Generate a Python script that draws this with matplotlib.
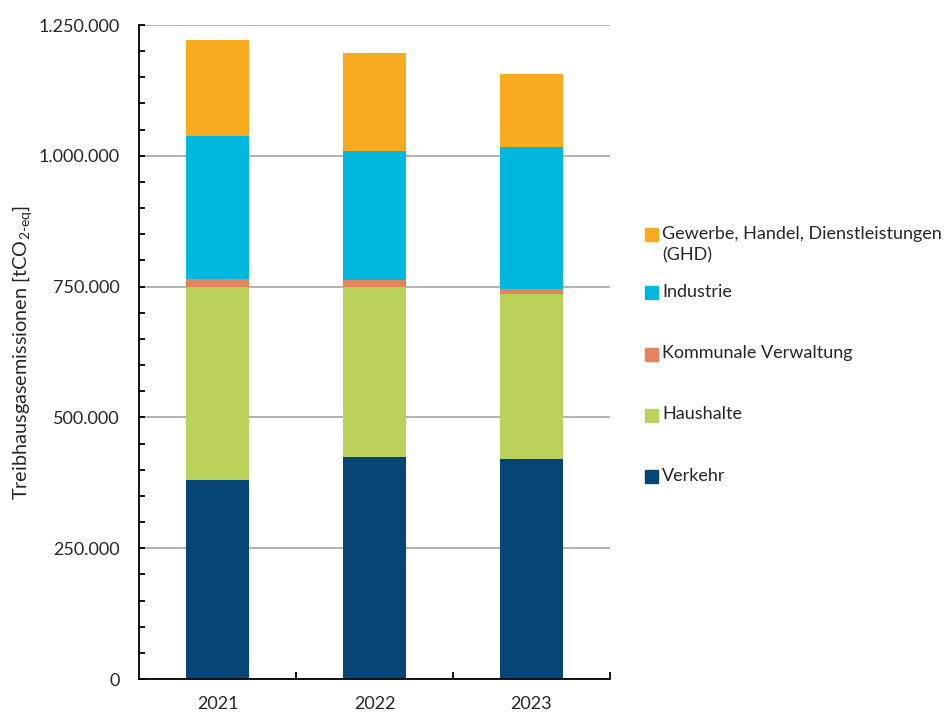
import matplotlib
matplotlib.use("Agg")
import matplotlib.pyplot as plt
import numpy as np
from matplotlib.patches import Rectangle
from matplotlib.ticker import MultipleLocator, FuncFormatter, FixedLocator

plt.rcParams['font.family'] = ['Lato', 'DejaVu Sans']
plt.rcParams['mathtext.fontset'] = 'custom'
plt.rcParams['mathtext.rm'] = 'Lato'
plt.rcParams['mathtext.it'] = 'Lato'

# Daten (tCO2-eq)
jahre = ['2021', '2022', '2023']
sektoren = ['Verkehr', 'Haushalte', 'Kommunale Verwaltung', 'Industrie',
            'Gewerbe, Handel, Dienstleistungen\n(GHD)']
verkehr = [380300, 424800, 421000]
haushalte = [369400, 324900, 314700]
kommunal = [14700, 12200, 9600]
industrie = [273800, 247700, 270800]
ghd = [182900, 186700, 140100]
farben = ['#054575', '#BBD25A', '#E6825F', '#00B8DD', '#F8AB1F']

werte = [verkehr, haushalte, kommunal, industrie, ghd]
textfarbe = '#262626'

fig = plt.figure(figsize=(9.49, 7.15), dpi=100)
ax = fig.add_axes([139/949, 1-679/715, 471/949, 654/715])

x = np.arange(len(jahre))
unten = np.zeros(len(jahre))
for reihe, farbe, name in zip(werte, farben, sektoren):
    ax.bar(x, reihe, width=0.4, bottom=unten, color=farbe, label=name, zorder=3)
    unten += np.array(reihe)

ax.set_xlim(-0.5, 2.5)
ax.set_ylim(0, 1250000)

ax.yaxis.set_major_locator(MultipleLocator(250000))
ax.yaxis.set_minor_locator(MultipleLocator(50000))
ax.yaxis.set_major_formatter(FuncFormatter(lambda v, p: f"{int(v):,}".replace(",", ".")))
ax.tick_params(axis='y', which='both', direction='in', length=4, width=1.3,
               labelsize=13, pad=14, colors='black', labelcolor=textfarbe)

ax.set_xticks(x)
ax.set_xticklabels(jahre)
ax.xaxis.set_minor_locator(FixedLocator([0.5, 1.5, 2.5]))
ax.tick_params(axis='x', which='major', length=0, labelsize=13, pad=12, labelcolor=textfarbe)
ax.tick_params(axis='x', which='minor', direction='in', length=5, width=1.3)

ax.grid(axis='y', which='major', color='#A6A6A6', linewidth=1.2, zorder=0)
ax.set_axisbelow(True)
for s in ['top', 'right']:
    ax.spines[s].set_visible(False)
for s in ['left', 'bottom']:
    ax.spines[s].set_linewidth(1.3)
    ax.spines[s].set_zorder(4)

ax.set_ylabel(r'Treibhausgasemissionen [tCO$_{\mathrm{2\text{-}eq}}$]', fontsize=14.3, color=textfarbe)
ax.yaxis.set_label_coords(-0.222, 0.5)

# Legende (wie im Original, Marker auf der ersten Zeile)
leg_y = [476.7, 415, 354, 292.7, 234.7]
for name, farbe, yp in zip(sektoren, farben, leg_y):
    fy = 1 - yp / 715
    fig.patches.append(Rectangle((645/949, fy - 6.5/715), 13/949, 13/715,
                                 transform=fig.transFigure, color=farbe, figure=fig))
    fig.text(662/949, fy + 9/715, name, fontsize=13, color=textfarbe,
             va='top', ha='left', linespacing=1.45)

fig.savefig('out.png', dpi=100)
